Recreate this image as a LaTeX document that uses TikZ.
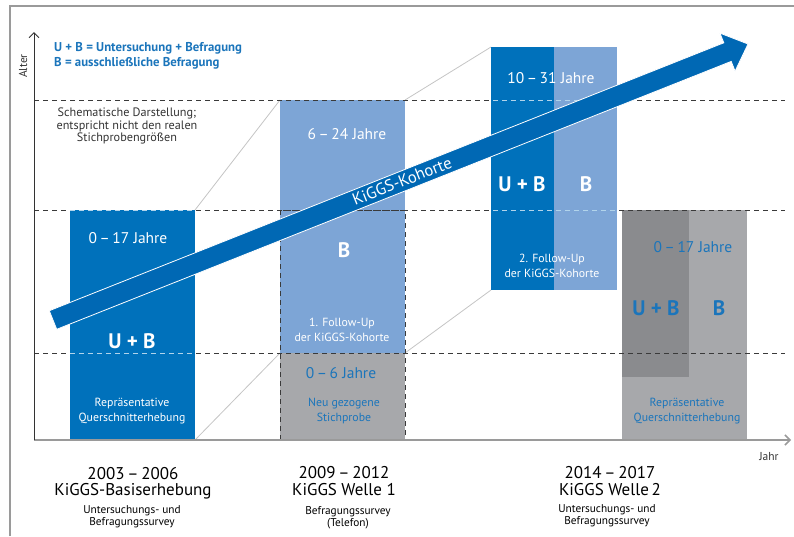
\documentclass[tikz,border=0pt]{standalone}
\usepackage{fontspec}
\setmainfont{PT Sans}
\usetikzlibrary{arrows.meta}
\definecolor{dblue}{HTML}{0071BB}
\definecolor{arrowblue}{HTML}{0068B4}
\definecolor{lblue}{HTML}{7DA5D6}
\definecolor{lgray}{HTML}{A7A8AB}
\definecolor{dgray}{HTML}{8A8B8E}
\definecolor{tblue}{HTML}{1B75BB}
\definecolor{projgray}{HTML}{C4C4C4}
\definecolor{dashgray}{HTML}{3A3A3A}
\definecolor{framegray}{HTML}{9A9A9A}
\definecolor{txtgray}{HTML}{333333}
\tikzset{
  legendtxt/.style={font=\fontsize{12.8}{14}\selectfont\bfseries, text=tblue, anchor=west, inner sep=0},
  agetxt/.style={font=\fontsize{15.5}{17}\selectfont, inner sep=0},
  bigtxt/.style={font=\fontsize{21}{24}\selectfont\bfseries, inner sep=0},
  smalltxt/.style={font=\fontsize{11.8}{15}\selectfont, align=center, inner sep=0},
  yeartxt/.style={font=\fontsize{17}{16.5}\selectfont, align=center, inner sep=0, text=black},
  desctxt/.style={font=\fontsize{11.3}{12}\selectfont, align=center, inner sep=0, text=black},
  gridline/.style={draw=dashgray, line width=0.8pt, dash pattern=on 5pt off 4pt},
  lightgrid/.style={draw=white!70!dblue, line width=0.8pt, dash pattern=on 5pt off 4pt},
  projline/.style={draw=projgray, line width=0.8pt},
  axisline/.style={draw=#1, line width=1pt, -{Straight Barb[length=5pt,width=10pt]}},
}
\begin{document}
\begin{tikzpicture}[x=1pt,y=-1pt]
\useasboundingbox (0,0) rectangle (794,536);
% frame
\draw[framegray, line width=1.5pt] (10,536) -- (10,6) -- (794,6);

% coordinates
\coordinate (origin) at (34,440);
\coordinate (yend) at (34,32);
\coordinate (xend) at (791,440);

% projection lines
\draw[projline] (195,210) -- (280,100);
\draw[projline] (195,440) -- (280,353);
\draw[projline] (405,100) -- (491,47);
\draw[projline] (405,353) -- (491,290);

% boxes behind grid lines
\fill[lblue] (280,100) rectangle (405,353);
\fill[lgray] (280,353) rectangle (405,440);
\fill[lgray] (622,210) rectangle (747,440);
\fill[dgray] (622,210) rectangle (689,377);

% grid lines
\draw[gridline] (34,100) -- (785,100);
\draw[gridline] (34,210) -- (785,210);
\draw[gridline] (34,353) -- (785,353);

% boxes in front
\fill[dblue] (70,210) rectangle (195,440);
\fill[dblue] (491,47) rectangle (554,290);
\fill[lblue] (554,47) rectangle (617,290);
\begin{scope}
  \clip (70,210) rectangle (195,440) (491,47) rectangle (617,290);
  \draw[lightgrid] (34,100) -- (785,100);
  \draw[lightgrid] (34,210) -- (785,210);
  \draw[lightgrid] (34,353) -- (785,353);
\end{scope}
\draw[gridline, draw=dashgray, line width=1pt] (280,210) rectangle (405,440);

% axes
\draw[axisline=framegray, line width=1.5pt] (origin) -- (xend);
\draw[axisline=txtgray] (origin) -- (yend);
\node[font=\fontsize{11.5}{12}\selectfont, rotate=90, text=txtgray, inner sep=0] (alter) at (23,66) {Alter};
\node[font=\fontsize{11.5}{12}\selectfont, text=txtgray, inner sep=0] (jahr) at (769,457) {Jahr};

% cohort arrow
\draw[fill=arrowblue, draw=white, line width=0.8pt]
  (49.3,310.7) -- (723.8,42.8) -- (719.9,33.1) -- (748,44) -- (735.1,71.1) -- (731.2,61.4) -- (56.7,329.3) -- cycle;
\node[font=\fontsize{16.5}{18}\selectfont, text=white, rotate=21.66, inner sep=0] (kohorte) at (402,181) {KiGGS-Kohorte};

% legend
\node[legendtxt] (leg1) at (54,48) {U + B = Untersuchung + Befragung};
\node[legendtxt] (leg2) at (54,63) {B = ausschließliche Befragung};
\node[font=\fontsize{12.2}{12.8}\selectfont, align=center, text=txtgray, inner sep=0] (schema) at (127,126)
  {Schematische Darstellung;\\entspricht nicht den realen\\Stichprobengrößen};

% box 1
\node[agetxt, text=white] (b1age) at (128,238) {0\,–\,17 Jahre};
\node[bigtxt, text=white] (b1ub) at (132,341) {U + B};
\node[smalltxt, text=white] (b1desc) at (132,411) {Repräsentative\\Querschnitterhebung};

% box 2
\node[agetxt, text=white] (b2age) at (347,134) {6\,–\,24 Jahre};
\node[bigtxt, text=white] (b2b) at (344,250) {B};
\node[smalltxt, text=white] (b2desc) at (342,330) {1. Follow-Up\\der KiGGS-Kohorte};
\node[agetxt, text=tblue] (b2new) at (341,373) {0\,–\,6 Jahre};
\node[smalltxt, text=tblue] (b2newdesc) at (344,411) {Neu gezogene\\Stichprobe};

% box 3
\node[agetxt, text=white] (b3age) at (551,78) {10\,–\,31 Jahre};
\node[bigtxt, text=white] (b3ub) at (522,184) {U + B};
\node[bigtxt, text=white] (b3b) at (586,184) {B};
\node[smalltxt, text=white] (b3desc) at (552,266) {2. Follow-Up\\der KiGGS-Kohorte};

% box 4
\node[agetxt, text=tblue] (b4age) at (693,247) {0\,–\,17 Jahre};
\node[bigtxt, text=tblue] (b4ub) at (656,308) {U + B};
\node[bigtxt, text=tblue] (b4b) at (719,308) {B};
\node[smalltxt, text=tblue] (b4desc) at (687,411) {Repräsentative\\Querschnitterhebung};

% bottom labels
\node[yeartxt] (y1) at (133,483) {2003\,–\,2006\\KiGGS-Basiserhebung};
\node[desctxt] (d1) at (132,517) {Untersuchungs- und\\Befragungssurvey};
\node[yeartxt] (y2) at (344,481) {2009\,–\,2012\\KiGGS Welle 1};
\node[desctxt] (d2) at (348,518) {Befragungssurvey\\(Telefon)};
\node[yeartxt] (y3) at (610,481) {2014\,–\,2017\\KiGGS Welle\,2};
\node[desctxt] (d3) at (607,516) {Untersuchungs- und\\Befragungssurvey};
\end{tikzpicture}
\end{document}
